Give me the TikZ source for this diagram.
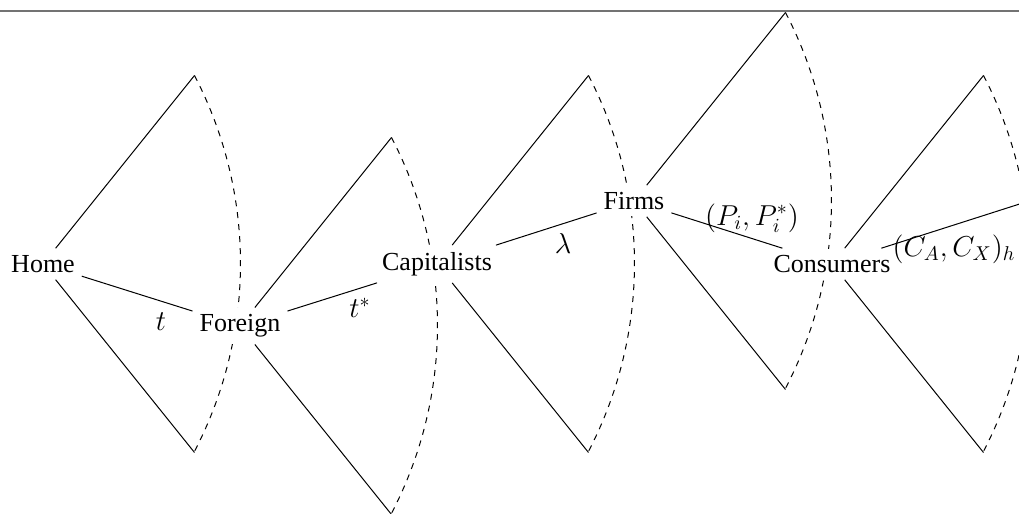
\documentclass[tikz,border=0pt]{standalone}
\usepackage{fontspec}
\setmainfont{Liberation Serif}
\begin{document}
\begin{tikzpicture}[x=0.5pt,y=0.5pt,
  every node/.style={font=\fontsize{13}{15.6}\selectfont},
  player/.style={inner sep=0.3333em,fill=white},
  lab/.style={font=\fontsize{14.6}{17}\selectfont},
  branch/.style={line width=0.5pt},
  infoset/.style={line width=0.5pt,dash pattern=on 3pt off 3pt},
  toprule/.style={line width=0.8pt,black!55}]
\useasboundingbox (0,0) rectangle (1019,514);
\clip (0,0) rectangle (1019,514);
\draw[toprule] (0,503) -- (1019,503);
% fan tips
\foreach \n/\x/\y in {home/43/250,foreign/240/188,cap/437/250,firms/634/313,cons/832/250,next/1029/313}{
  \coordinate (\n-u) at (\x+151.5,\y+188.5);
  \coordinate (\n-d) at (\x+151.5,\y-188.5);
}
% information sets
\foreach \n in {home,foreign,cap,firms,cons,next}{
  \draw[infoset] (\n-u) arc[start angle=27.5,end angle=-27.5,radius=203.5pt];
}
% players
\node[player] (home) at (43,250) {Home};
\node[player] (foreign) at (240,188) {Foreign};
\node[player] (cap) at (437,250) {Capitalists};
\node[player] (firms) at (634,313) {Firms};
\node[player] (cons) at (832,250) {Consumers};
\coordinate (next) at (1029,313);
\foreach \n in {home,foreign,cap,firms,cons}{
  \draw[branch] (\n) -- (\n-u);
  \draw[branch] (\n) -- (\n-d);
}
% chain
\draw[branch] (home) -- (foreign);
\draw[branch] (foreign) -- (cap);
\draw[branch] (cap) -- (firms);
\draw[branch] (firms) -- (cons);
\draw[branch] (cons) -- (next);
% labels
\node[lab] (lt) at (161,192) {$t$};
\node[lab] (lts) at (360,206) {$t^*$};
\node[lab] (ll) at (563,270) {$\lambda$};
\node[lab] (lp) at (752,296) {$(P_i,P_i^*)$};
\node[lab] (lc) at (954,265) {$(C_A,C_X)_h$};
\end{tikzpicture}
\end{document}
